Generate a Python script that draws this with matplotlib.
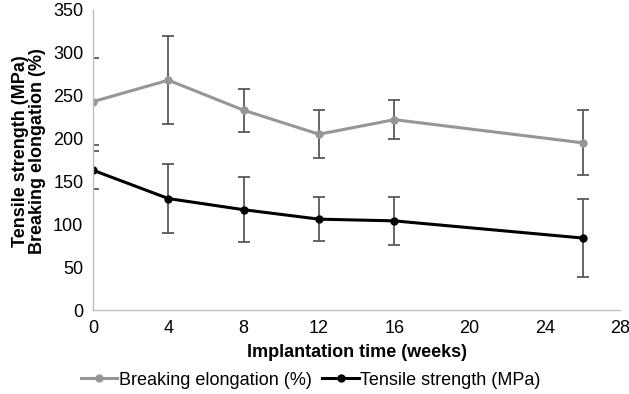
import matplotlib.pyplot as plt
import numpy as np

plt.rcParams['font.family'] = ['Liberation Sans', 'DejaVu Sans']

weeks = [0, 4, 8, 12, 16, 26]
elongation = [243, 268, 233, 205, 222, 195]
elongation_err = [51, 51, 25, 28, 23, 38]
strength = [163, 130, 117, 106, 104, 84]
strength_err = [22, 40, 38, 26, 28, 45]

fig = plt.figure(figsize=(6.29, 3.94), dpi=100)
ax = fig.add_axes([0.148, 0.213, 0.838, 0.762])

ax.errorbar(weeks, elongation, yerr=elongation_err, color='#969696', lw=2.2,
            marker='o', ms=5, ecolor='#595959', elinewidth=1.3, capsize=4,
            capthick=1.3, label='Breaking elongation (%)')
ax.errorbar(weeks, strength, yerr=strength_err, color='black', lw=2.2,
            marker='o', ms=5, ecolor='#595959', elinewidth=1.3, capsize=4,
            capthick=1.3, label='Tensile strength (MPa)')

ax.set_xlim(0, 28)
ax.set_ylim(0, 350)
ax.set_xticks(np.arange(0, 29, 4))
ax.set_yticks(np.arange(0, 351, 50))
ax.tick_params(length=0, labelsize=13, pad=7)
for s in ['top', 'right']:
    ax.spines[s].set_visible(False)
for s in ['left', 'bottom']:
    ax.spines[s].set_color('#bfbfbf')
    ax.spines[s].set_linewidth(1)

ax.set_xlabel('Implantation time (weeks)', fontsize=13, fontweight='bold', labelpad=5)
ax.set_ylabel('Tensile strength (MPa)\nBreaking elongation (%)', fontsize=13,
              fontweight='bold', linespacing=1.0)
ax.yaxis.set_label_coords(-0.09, 0.53)

# legend: line handles only, no error bars
handles, labels = ax.get_legend_handles_labels()
handles = [h[0] for h in handles]
ax.legend(handles, labels, loc='center', bbox_to_anchor=(0.413, -0.233), ncol=2,
          frameon=False, fontsize=13, handlelength=2.0, columnspacing=0.6,
          handletextpad=0.1, borderaxespad=0)

fig.savefig('out.png', dpi=100)
